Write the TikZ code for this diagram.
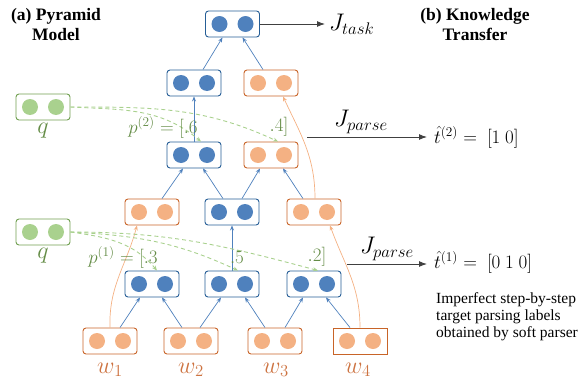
\RequirePackage{fix-cm}
\documentclass[tikz,border=0pt]{standalone}
\usepackage{amsmath}
\usepackage[no-math]{fontspec}
\setmainfont{Liberation Serif}
\usetikzlibrary{arrows.meta}

\definecolor{bluefill}{RGB}{79,129,189}
\definecolor{blueline}{RGB}{38,94,150}
\definecolor{orangefill}{RGB}{244,177,131}
\definecolor{orangeline}{RGB}{200,100,40}
\definecolor{greenfill}{RGB}{169,209,142}
\definecolor{greenline}{RGB}{112,160,80}
\definecolor{greentext}{RGB}{100,140,70}
\definecolor{wordtext}{RGB}{205,115,65}

\tikzset{
  cell/.style 2 args={draw=#1, line width=0.9pt, rounded corners=3pt,
    minimum width=54pt, minimum height=26pt, inner sep=0pt,
    path picture={\foreach \dx in {-13,13}
      \fill[#2] ([xshift=\dx pt]path picture bounding box.center) circle (8pt);}},
  bluecell/.style={cell={blueline}{bluefill}},
  orangecell/.style={cell={orangeline}{orangefill}},
  greencell/.style={cell={greenline}{greenfill}},
  link/.style={draw=bluefill, line width=0.7pt, -{Stealth[length=5pt,width=4pt]}},
  copy/.style={draw=orangefill, line width=0.7pt, -{Stealth[length=5pt,width=4pt]}},
  attn/.style={draw=greenfill, line width=0.9pt, dash pattern=on 4pt off 3pt,
    -{Stealth[length=5pt,width=4pt]}},
  loss/.style={draw=black!75, line width=1pt, -{Latex[length=8pt,width=6pt]}},
  biglabel/.style={font=\fontsize{24}{27}\selectfont, inner sep=0pt},
  plabel/.style={text=greentext, font=\fontsize{19}{22}\selectfont, inner sep=0pt},
  title/.style={font=\fontsize{17.5}{20}\selectfont\bfseries, align=center}
}

\begin{document}
\begin{tikzpicture}[x=1pt, y=-1pt]
    \useasboundingbox (0,0) rectangle (586,380);

    % Titles
    \node[title] (titlea) at (56,25) {(a) Pyramid\\Model};
    \node[title] (titleb) at (475,25) {(b) Knowledge\\Transfer};

    % Word nodes
    \node[orangecell] (w1) at (110,341) {};
    \node[orangecell] (w2) at (191,341) {};
    \node[orangecell] (w3) at (275,341) {};
    \node[orangecell, sharp corners] (w4) at (360,341) {};
    \foreach \i/\x in {1/110, 2/191, 3/276, 4/358}
        \node[biglabel, text=wordtext] (wl\i) at (\x,370) {$w_{\i}$};

    % First step
    \node[bluecell] (b1) at (152,284) {};
    \node[bluecell] (b2) at (232,284) {};
    \node[bluecell] (b3) at (314,284) {};
    \node[orangecell] (m1) at (152,212) {};
    \node[bluecell] (m2) at (232,212) {};
    \node[orangecell] (m3) at (314,212) {};

    % Second step
    \node[bluecell] (c1) at (194,155) {};
    \node[orangecell] (c2) at (271,155) {};
    \node[bluecell] (d1) at (194,83) {};
    \node[orangecell] (d2) at (271,83) {};

    % Top node
    \node[bluecell] (top) at (232.5,24) {};

    % Query vectors
    \node[greencell] (q2) at (43,107) {};
    \node[biglabel, text=greentext] (q2l) at (43,131) {$q$};
    \node[greencell] (q1) at (43,232) {};
    \node[biglabel, text=greentext] (q1l) at (43,256) {$q$};

    % Composition links
    \foreach \from/\to/\s/\e in {w1/b1/10/-12, w2/b1/-9/10, w2/b2/9/-11, w3/b2/-10/13,
            w3/b3/10/-11, w4/b3/-10/12, m1/c1/10/-11, m2/c1/-9/9, m2/c2/10/-11,
            m3/c2/-11/12, d1/top/9/-10, d2/top/-8/10}
        \draw[link] ([xshift=\s pt]\from.north) -- ([xshift=\e pt]\to.south);
    \draw[link] (b2) -- (m2);
    \draw[link] (c1) -- (d1);

    % Copy links
    \draw[copy] (w1.north) to[out=92, in=255] ([xshift=-15pt]m1.south);
    \draw[copy] (w4.north) to[out=90, in=290] ([xshift=16pt]m3.south);
    \draw[copy] ([xshift=1pt]m3.north) to[out=90, in=295] ([xshift=12pt]d2.south);

    % Soft parsing weights
    \draw[attn] (q2.east) to[out=-3, in=140] ([xshift=7pt]c1.north);
    \draw[attn] (q2.east) to[out=0, in=155] ([xshift=7pt]c2.north);
    \draw[attn] (q1.east) to[out=-8, in=130] ([xshift=5pt]b1.north);
    \draw[attn] (q1.east) to[out=-3, in=155] ([xshift=6pt]b2.north);
    \draw[attn] (q1.east) to[out=0, in=165] ([xshift=4pt]b3.north);
    \node[plabel] (p2a) at (163,127) {$p^{(2)} = [.6$};
    \node[plabel] (p2b) at (279,127) {$.4]$};
    \node[plabel] (p1a) at (123,257) {$p^{(1)} = [.3$};
    \node[plabel] (p1b) at (237,257) {$.5$};
    \node[plabel] (p1c) at (317,257) {$.2]$};

    % Objectives
    \coordinate (tasktip) at (325,24);
    \draw[loss] (top.east) -- (tasktip);
    \node[biglabel, anchor=west, inner sep=4pt] (jtask) at (tasktip) {$J_{task}$};

    \coordinate (parse2from) at (307,137);
    \coordinate (parse2to) at (427,137);
    \draw[loss] (parse2from) -- node[biglabel, above, pos=0.45, inner sep=3pt] (jparse2) {$J_{parse}$} (parse2to);
    \node[plabel, text=black, anchor=west] (t2) at ([xshift=7pt]parse2to) {$\hat{t}^{(2)} =\ [1\ 0]$};

    \coordinate (parse1from) at (347,264);
    \coordinate (parse1to) at (427,264);
    \draw[loss] (parse1from) -- node[biglabel, above, inner sep=3pt] (jparse1) {$J_{parse}$} (parse1to);
    \node[plabel, text=black, anchor=west] (t1) at ([xshift=7pt, yshift=2pt]parse1to) {$\hat{t}^{(1)} =\ [0\ 1\ 0]$};

    % Note
    \node[anchor=north west, align=left, inner sep=0pt,
          font=\fontsize{15.5}{17}\selectfont] (note) at (436,292)
        {Imperfect step-by-step\\target parsing labels\\obtained by soft parser};
\end{tikzpicture}
\end{document}
